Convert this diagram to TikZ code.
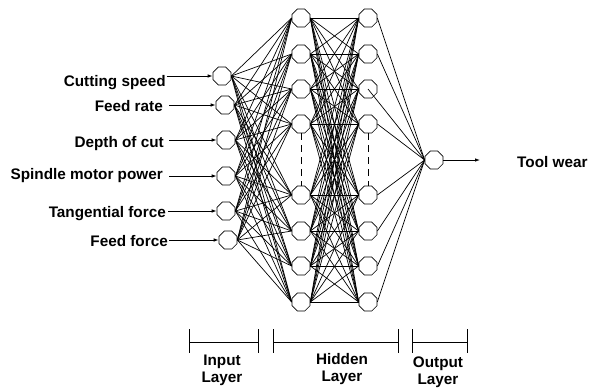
\documentclass[tikz,border=0pt]{standalone}
\usepackage{fontspec}
\setmainfont{Liberation Sans}
\usetikzlibrary{shapes.geometric,arrows.meta}
\begin{document}
\begin{tikzpicture}[x=1pt,y=-1pt,
  neuron/.style={draw,regular polygon,regular polygon sides=8,minimum size=19.5pt,inner sep=0pt,line width=0.7pt},
  conn/.style={line width=0.7pt},
  lab/.style={font=\bfseries\fontsize{15.3}{17}\selectfont,inner sep=0pt},
  inarrow/.style={line width=0.75pt,-{Latex[length=5pt,width=3.5pt]}},
  dashline/.style={line width=0.7pt,dash pattern=on 7pt off 5pt},
  bracket/.style={line width=0.8pt}]
\useasboundingbox (0,0) rectangle (589,389);
% input nodes
\foreach \i/\x/\y in {1/222/76,2/225/105,3/226/140,4/226/176,5/226/211,6/228/240}
  \node[neuron] (i\i) at (\x,\y) {};
% hidden nodes
\foreach \j/\y in {1/18,2/54,3/89,4/124,5/195,6/231,7/266,8/302} {
  \node[neuron] (a\j) at (301,\y) {};
  \node[neuron] (b\j) at (368,\y) {};
}
% output node
\node[neuron] (o) at (434,160) {};
% connections
\foreach \i in {1,...,6} \foreach \j in {1,...,8} \draw[conn] (i\i.east) -- (a\j.west);
\foreach \i in {1,...,8} \foreach \j in {1,...,8} \draw[conn] (a\i.east) -- (b\j.west);
\foreach \j in {1,2,4,5,6,7,8} \draw[conn] (b\j.east) -- (o.west);
\draw[conn] (b3.center) -- (o.west);
% dashed continuation
\draw[dashline] (a4.south) -- (a5.north);
\draw[dashline] (b4.south) -- (b5.north);
% input labels
\node[lab,anchor=base east] (l1) at (166,86) {Cutting speed};
\node[lab,anchor=base east] (l2) at (163,111) {Feed rate};
\node[lab,anchor=base east] (l3) at (164,147) {Depth of cut};
\node[lab,anchor=base east] (l4) at (163,179) {Spindle motor power};
\node[lab,anchor=base east] (l5) at (166,217) {Tangential force};
\node[lab,anchor=base east] (l6) at (168,246) {Feed force};
\draw[inarrow] ([xshift=0.5pt]l1.east |- i1.west) -- (i1.west);
\draw[inarrow] ([xshift=6pt]l2.east |- i2.west) -- (i2.west);
\draw[inarrow] ([xshift=5pt]l3.east |- i3.west) -- (i3.west);
\draw[inarrow] ([xshift=6pt]l4.east |- i4.west) -- (i4.west);
\draw[inarrow] ([xshift=2pt]l5.east |- i5.west) -- (i5.west);
\draw[inarrow] ([xshift=1pt]l6.east |- i6.west) -- (i6.west);
% output
\coordinate (oe) at (480,160);
\draw[inarrow] (o.east) -- (oe);
\node[lab,anchor=base west] (tw) at (517,167) {Tool wear};
% layer brackets
\draw[bracket] (189,329) -- (189,353) (189,342) -- (258,342) (258,329) -- (258,353);
\draw[bracket] (273,329) -- (273,353) (273,342) -- (398,342) (398,329) -- (398,353);
\draw[bracket] (412,329) -- (412,353) (412,342) -- (467,342) (467,329) -- (467,353);
\node[lab,align=center,anchor=north] (tin) at (222,354.5) {Input\\Layer};
\node[lab,align=center,anchor=north] (thid) at (342,353.5) {Hidden\\Layer};
\node[lab,align=center,anchor=north] (tout) at (438,356.5) {Output\\Layer};
\end{tikzpicture}
\end{document}
